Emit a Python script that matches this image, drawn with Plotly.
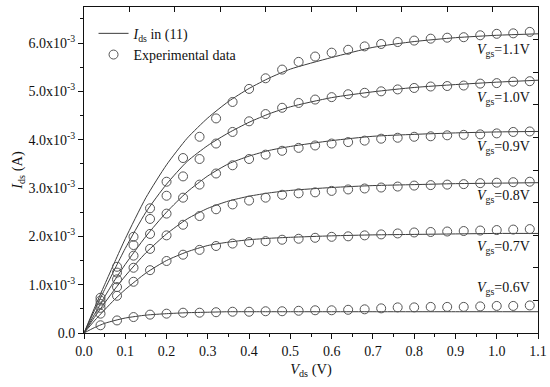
import numpy as np
import plotly.graph_objects as go

# ---------------- data (currents in units of 1e-3 A) ----------------
vds_exp = [0.04, 0.08, 0.12, 0.16, 0.20, 0.24, 0.28, 0.32, 0.36, 0.40, 0.44, 0.48, 0.52, 0.56,
           0.60, 0.64, 0.68, 0.72, 0.76, 0.80, 0.84, 0.88, 0.92, 0.96, 1.00, 1.04, 1.08]

exp_06 = [0.16, 0.26, 0.33, 0.38, 0.40, 0.42, 0.42, 0.43, 0.44, 0.44, 0.45, 0.45, 0.46, 0.47,
          0.47, 0.48, 0.49, 0.51, 0.53, 0.53, 0.54, 0.54, 0.54, 0.55, 0.56, 0.56, 0.57]
exp_07 = [0.40, 0.77, 1.06, 1.30, 1.49, 1.62, 1.72, 1.80, 1.85, 1.88, 1.90, 1.93, 1.95, 1.97,
          1.99, 2.00, 2.02, 2.04, 2.06, 2.08, 2.09, 2.10, 2.11, 2.12, 2.13, 2.14, 2.15]
exp_08 = [0.52, 0.95, 1.35, 1.74, 2.02, 2.24, 2.42, 2.56, 2.66, 2.74, 2.80, 2.86, 2.89, 2.91,
          2.94, 2.97, 2.99, 3.01, 3.03, 3.05, 3.06, 3.07, 3.08, 3.10, 3.11, 3.12, 3.13]
exp_09 = [0.60, 1.11, 1.60, 2.05, 2.47, 2.80, 3.07, 3.30, 3.47, 3.60, 3.69, 3.77, 3.83, 3.88,
          3.92, 3.95, 3.98, 4.02, 4.04, 4.06, 4.07, 4.09, 4.10, 4.11, 4.13, 4.16, 4.17]
exp_10 = [0.67, 1.25, 1.82, 2.36, 2.84, 3.24, 3.60, 3.92, 4.16, 4.38, 4.53, 4.66, 4.76, 4.83,
          4.88, 4.94, 4.97, 5.00, 5.04, 5.07, 5.10, 5.11, 5.12, 5.16, 5.17, 5.20, 5.21]
exp_11 = [0.73, 1.37, 1.99, 2.58, 3.13, 3.62, 4.06, 4.44, 4.78, 5.05, 5.27, 5.45, 5.61, 5.72,
          5.80, 5.86, 5.93, 5.98, 6.02, 6.05, 6.09, 6.11, 6.12, 6.16, 6.19, 6.20, 6.23]

vds_model = [0, 0.025, 0.05, 0.075, 0.10, 0.15, 0.20, 0.25, 0.30, 0.35, 0.40, 0.45, 0.50, 0.60, 0.70, 0.80, 0.90, 1.00, 1.10]
mod_06 = [0, 0.11, 0.20, 0.26, 0.31, 0.37, 0.40, 0.42, 0.43, 0.44, 0.44, 0.44, 0.44, 0.44, 0.44, 0.44, 0.44, 0.44, 0.44]
mod_07 = [0, 0.25, 0.48, 0.70, 0.90, 1.24, 1.50, 1.68, 1.81, 1.88, 1.93, 1.96, 1.98, 2.01, 2.03, 2.04, 2.05, 2.06, 2.06]
mod_08 = [0, 0.32, 0.62, 0.91, 1.18, 1.66, 2.05, 2.36, 2.58, 2.73, 2.83, 2.90, 2.95, 3.01, 3.05, 3.07, 3.09, 3.10, 3.11]
mod_09 = [0, 0.38, 0.75, 1.10, 1.42, 2.00, 2.50, 2.92, 3.25, 3.50, 3.66, 3.78, 3.86, 3.98, 4.07, 4.11, 4.14, 4.16, 4.17]
mod_10 = [0, 0.46, 0.90, 1.33, 1.75, 2.50, 3.08, 3.55, 3.88, 4.14, 4.36, 4.54, 4.68, 4.87, 4.99, 5.08, 5.14, 5.19, 5.23]
mod_11 = [0, 0.51, 1.00, 1.48, 1.95, 2.80, 3.48, 4.03, 4.45, 4.79, 5.06, 5.28, 5.46, 5.70, 5.91, 6.03, 6.11, 6.16, 6.19]

vgs_labels = ["1.1", "1.0", "0.9", "0.8", "0.7", "0.6"]
label_y = [5.85, 4.86, 3.84, 2.83, 1.77, 0.93]

x_ticks = [0.0, 0.1, 0.2, 0.3, 0.4, 0.5, 0.6, 0.7, 0.8, 0.9, 1.0, 1.1]
y_ticks = [0, 1, 2, 3, 4, 5, 6]
y_ticktext = ["0.0"] + [f"{v}.0x10<sup>-3</sup>" for v in y_ticks[1:]]

scale = 1e-3
FONT = "Liberation Serif, Times New Roman, serif"
LINE_C = "#3c3c3c"
MARK_C = "#555555"

fig = go.Figure()

models = [mod_11, mod_10, mod_09, mod_08, mod_07, mod_06]
exps = [exp_11, exp_10, exp_09, exp_08, exp_07, exp_06]

for i, m in enumerate(models):
    fig.add_trace(go.Scatter(
        x=vds_model, y=np.array(m) * scale, mode="lines",
        line=dict(color=LINE_C, width=1, shape="spline", smoothing=0.6),
        name="<i>I</i><sub>ds</sub> in (11)", showlegend=(i == 0), legendrank=1,
        hoverinfo="skip"))

for i, e in enumerate(exps):
    fig.add_trace(go.Scatter(
        x=vds_exp, y=np.array(e) * scale, mode="markers",
        marker=dict(symbol="circle-open", size=9, color=MARK_C, line=dict(width=1, color=MARK_C)),
        name="Experimental data", showlegend=(i == 0), legendrank=2,
        hoverinfo="skip"))

# empty trace to activate the mirrored tick axes
fig.add_trace(go.Scatter(x=[None], y=[None], xaxis="x2", yaxis="y2", showlegend=False, hoverinfo="skip"))

for lab, ly in zip(vgs_labels, label_y):
    fig.add_annotation(x=1.085, y=ly * scale, xref="x", yref="y",
                       text=f"<i>V</i><sub>gs</sub>={lab}V", showarrow=False,
                       xanchor="right", yanchor="middle",
                       font=dict(family=FONT, size=14, color="#111"))

fig.update_layout(
    width=550, height=387,
    margin=dict(l=83.5, r=12, t=7, b=54, autoexpand=False),
    paper_bgcolor="white", plot_bgcolor="white",
    font=dict(family=FONT, size=14, color="#111"),
    showlegend=True,
    legend=dict(x=0.021, y=0.967, xanchor="left", yanchor="top",
                bgcolor="rgba(0,0,0,0)", borderwidth=0,
                font=dict(family=FONT, size=14, color="#111"),
                tracegroupgap=0, itemwidth=30),
    xaxis=dict(range=[0, 1.1], tickvals=x_ticks, ticktext=[f"{v:.1f}" for v in x_ticks],
               ticks="outside", ticklen=5, tickwidth=1, tickcolor="#111",
               minor=dict(dtick=0.05, ticks="outside", ticklen=3, tickcolor="#111"),
               showline=True, linecolor="#111", linewidth=1, mirror=True,
               showgrid=False, zeroline=False, automargin=False,
               tickfont=dict(family=FONT, size=14, color="#111"),
               title=dict(text="<i>V</i><sub>ds</sub> (V)", font=dict(family=FONT, size=14.5), standoff=6)),
    yaxis=dict(range=[0, 6.745e-3], tickvals=[v * scale for v in y_ticks], ticktext=y_ticktext,
               ticks="outside", ticklen=5, tickwidth=1, tickcolor="#111",
               minor=dict(dtick=0.5e-3, ticks="outside", ticklen=3, tickcolor="#111"),
               showline=True, linecolor="#111", linewidth=1, mirror=True,
               showgrid=False, zeroline=False, automargin=False,
               tickfont=dict(family=FONT, size=14, color="#111"),
               title=dict(text="<i>I</i><sub>ds</sub> (A)", font=dict(family=FONT, size=14.5), standoff=2)),
    xaxis2=dict(overlaying="x", side="top", anchor="y", range=[0, 10], dtick=1,
                ticks="inside", ticklen=5, tickcolor="#111", showticklabels=False,
                showline=False, showgrid=False, zeroline=False, automargin=False),
    yaxis2=dict(overlaying="y", side="right", anchor="x", range=[0, 10], dtick=1,
                ticks="inside", ticklen=5, tickcolor="#111", showticklabels=False,
                showline=False, showgrid=False, zeroline=False, automargin=False),
)

fig.write_html("out.html", config={"displayModeBar": False},
               post_script="document.body.style.margin='0px';")
